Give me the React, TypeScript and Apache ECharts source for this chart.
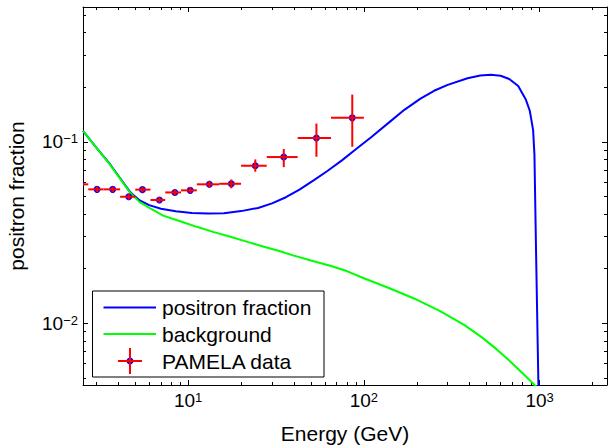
import React, { useEffect, useRef } from "react";
import * as echarts from "echarts";

// ---- data ----
const xMin = 2.52;
const xMax = 2420;
const yMin = 0.00457;
const yMax = 0.553;

const xMajorTicks = [10, 100, 1000];
const xMinorTicks = [3, 4, 5, 6, 7, 8, 9, 20, 30, 40, 50, 60, 70, 80, 90, 200, 300, 400, 500, 600, 700, 800, 900, 2000];
const yMajorTicks = [0.01, 0.1];
const yMinorTicks = [0.005, 0.006, 0.007, 0.008, 0.009, 0.02, 0.03, 0.04, 0.05, 0.06, 0.07, 0.08, 0.09, 0.2, 0.3, 0.4, 0.5];

// positron fraction model curve
const fracEnergy = [2.52, 3.0, 3.6, 4.2, 4.7, 5.3, 6.0, 7.0, 8.5, 10.5, 13, 16, 20, 25, 30, 36, 43, 52, 62, 75, 90, 110, 142, 170, 210, 251, 300, 389, 460, 528, 600, 672, 756, 835, 880, 919, 935, 955, 1000];
const fracValue = [0.115, 0.093, 0.075, 0.061, 0.0525, 0.0475, 0.0448, 0.0428, 0.0414, 0.0405, 0.0402, 0.0404, 0.0415, 0.0432, 0.0458, 0.0495, 0.0545, 0.0615, 0.069, 0.079, 0.091, 0.106, 0.13, 0.15, 0.173, 0.191, 0.206, 0.224, 0.232, 0.234, 0.231, 0.222, 0.203, 0.171, 0.148, 0.116, 0.085, 0.025, 0.002];

// background curve
const bgEnergy = [2.52, 3.0, 3.6, 4.2, 4.7, 5.3, 6.2, 7.2, 9, 11.2, 14, 17.4, 22, 27, 33, 40, 50, 65, 80, 100, 140, 193, 270, 372, 470, 571, 660, 750, 840, 918, 1000];
const bgValue = [0.115, 0.093, 0.0745, 0.0605, 0.052, 0.0465, 0.0425, 0.0392, 0.0365, 0.034, 0.0318, 0.03, 0.028, 0.0264, 0.025, 0.0236, 0.0222, 0.0207, 0.0194, 0.0177, 0.0156, 0.0137, 0.0117, 0.0098, 0.00836, 0.00718, 0.00634, 0.00564, 0.00507, 0.00466, 0.0043];

// PAMELA data
const pamEnergy = [2.45, 3.03, 3.72, 4.59, 5.49, 6.86, 8.4, 10.27, 13.2, 17.6, 24.1, 35.0, 53.7, 85.9];
const pamEnergyLow = [2.2, 2.7, 3.3, 4.1, 5.0, 6.1, 7.4, 9.1, 11.2, 15, 20, 28, 42, 65];
const pamEnergyHigh = [2.7, 3.3, 4.1, 5.0, 6.1, 7.4, 9.1, 11.2, 15, 20, 28, 42, 65, 100];
const pamValue = [0.0583, 0.0547, 0.0547, 0.0498, 0.0545, 0.0478, 0.0526, 0.054, 0.0583, 0.0587, 0.0738, 0.0824, 0.105, 0.1355];
const pamValueLow = [0.0565, 0.0528, 0.0528, 0.048, 0.0525, 0.0462, 0.0506, 0.0519, 0.056, 0.0554, 0.0684, 0.0725, 0.0827, 0.0939];
const pamValueHigh = [0.0602, 0.0567, 0.0567, 0.0518, 0.0566, 0.0496, 0.0548, 0.0563, 0.061, 0.062, 0.08, 0.0912, 0.126, 0.182];

const legendLabels = ["positron fraction", "background", "PAMELA data"];
const xTitle = "Energy (GeV)";
const yTitle = "positron fraction";

const FONT = "'Liberation Sans', Arial, Helvetica, sans-serif";
const BLUE = "#0000ff";
const GREEN = "#00ff00";
const RED = "#ff0000";

const supLabel = (v: number) => {
  const e = Math.round(Math.log10(v));
  const s = e < 0 ? "\u2212" + Math.abs(e) : String(e);
  return "{b|10}{s|" + s + "}";
};

const labelRich = {
  b: { fontSize: 19, lineHeight: 19, padding: [10, 0, 0, 0], verticalAlign: "bottom", color: "#000", fontFamily: FONT },
  s: { fontSize: 13, lineHeight: 13, verticalAlign: "top", color: "#000", fontFamily: FONT },
};

function makeXAxis(position: "top" | "bottom", major: boolean, withLabels: boolean, extra: any = {}) {
  return {
    type: "log",
    logBase: 10,
    min: xMin,
    max: xMax,
    position,
    gridIndex: 0,
    axisLine: { show: major, onZero: false, lineStyle: { color: "#000", width: 1 } },
    axisTick: {
      show: true,
      inside: true,
      length: major ? 5 : 3,
      customValues: major ? xMajorTicks : xMinorTicks,
      lineStyle: { color: "#000", width: 1 },
    },
    axisLabel: withLabels
      ? { show: true, customValues: xMajorTicks, formatter: supLabel, rich: labelRich, margin: 6 }
      : { show: false },
    splitLine: { show: false },
    minorTick: { show: false },
    ...extra,
  };
}

function makeYAxis(position: "left" | "right", major: boolean, withLabels: boolean, extra: any = {}) {
  return {
    type: "log",
    logBase: 10,
    min: yMin,
    max: yMax,
    position,
    gridIndex: 0,
    axisLine: { show: major, onZero: false, lineStyle: { color: "#000", width: 1 } },
    axisTick: {
      show: true,
      inside: true,
      length: major ? 5 : 3,
      customValues: major ? yMajorTicks : yMinorTicks,
      lineStyle: { color: "#000", width: 1 },
    },
    axisLabel: withLabels
      ? { show: true, customValues: yMajorTicks, formatter: supLabel, rich: labelRich, margin: 5 }
      : { show: false },
    splitLine: { show: false },
    minorTick: { show: false },
    ...extra,
  };
}

export default function App() {
  const ref = useRef<HTMLDivElement>(null);

  useEffect(() => {
    if (!ref.current) return;
    const chart = echarts.init(ref.current, null, { renderer: "svg" });

    const fracData = fracEnergy.map((e, i) => [e, fracValue[i]]);
    const bgData = bgEnergy.map((e, i) => [e, bgValue[i]]);
    const pamData = pamEnergy.map((e, i) => [e, pamValue[i], pamEnergyLow[i], pamEnergyHigh[i], pamValueLow[i], pamValueHigh[i]]);

    const lx = 92.5, ly = 291, lw = 231.5, lh = 86;
    const rows = [307.5, 334, 361];

    chart.setOption({
      animation: false,
      backgroundColor: "#fff",
      textStyle: { fontFamily: FONT },
      grid: { left: 83, right: 1, top: 7, bottom: 63, containLabel: false, outerBoundsMode: "none" },
      xAxis: [
        makeXAxis("bottom", true, true, {
          name: xTitle,
          nameLocation: "middle",
          nameGap: 38,
          nameTextStyle: { fontSize: 21, color: "#000", fontFamily: FONT },
        }),
        makeXAxis("bottom", false, false),
        makeXAxis("top", true, false),
        makeXAxis("top", false, false),
      ],
      yAxis: [
        makeYAxis("left", true, true, {
          name: yTitle,
          nameLocation: "middle",
          nameGap: 56,
          nameTextStyle: { fontSize: 21, color: "#000", fontFamily: FONT },
        }),
        makeYAxis("left", false, false),
        makeYAxis("right", true, false),
        makeYAxis("right", false, false),
      ],
      series: [
        {
          name: legendLabels[0],
          type: "line",
          xAxisIndex: 0,
          yAxisIndex: 0,
          data: fracData,
          showSymbol: false,
          symbol: "none",
          clip: true,
          lineStyle: { color: BLUE, width: 2 },
          itemStyle: { color: BLUE },
          z: 2,
        },
        {
          name: legendLabels[1],
          type: "line",
          xAxisIndex: 0,
          yAxisIndex: 0,
          data: bgData,
          showSymbol: false,
          symbol: "none",
          clip: true,
          lineStyle: { color: GREEN, width: 2 },
          itemStyle: { color: GREEN },
          z: 3,
        },
        {
          name: legendLabels[2],
          type: "custom",
          xAxisIndex: 0,
          yAxisIndex: 0,
          clip: true,
          z: 4,
          encode: { x: 0, y: 1 },
          data: pamData,
          renderItem: (params: any, api: any) => {
            const x = api.value(0), y = api.value(1);
            const c = api.coord([x, y]);
            const l = api.coord([api.value(2), y]);
            const r = api.coord([api.value(3), y]);
            const b = api.coord([x, api.value(4)]);
            const t = api.coord([x, api.value(5)]);
            return {
              type: "group",
              children: [
                { type: "circle", shape: { cx: c[0], cy: c[1], r: 3.5 }, style: { fill: BLUE } },
                { type: "line", shape: { x1: l[0], y1: l[1], x2: r[0], y2: r[1] }, style: { stroke: RED, lineWidth: 2 } },
                { type: "line", shape: { x1: t[0], y1: t[1], x2: b[0], y2: b[1] }, style: { stroke: RED, lineWidth: 2 } },
              ],
            };
          },
        },
      ],
      graphic: [
        {
          type: "group",
          z: 100,
          children: [
            { type: "rect", shape: { x: lx, y: ly, width: lw, height: lh }, style: { fill: "#fff", stroke: "#000", lineWidth: 1 } },
            { type: "line", shape: { x1: 103.5, y1: rows[0], x2: 156, y2: rows[0] }, style: { stroke: BLUE, lineWidth: 2 } },
            { type: "line", shape: { x1: 103.5, y1: rows[1], x2: 156, y2: rows[1] }, style: { stroke: GREEN, lineWidth: 2 } },
            { type: "circle", shape: { cx: 130, cy: rows[2], r: 3.5 }, style: { fill: BLUE } },
            { type: "line", shape: { x1: 118, y1: rows[2], x2: 142, y2: rows[2] }, style: { stroke: RED, lineWidth: 2 } },
            { type: "line", shape: { x1: 130, y1: rows[2] - 13, x2: 130, y2: rows[2] + 13 }, style: { stroke: RED, lineWidth: 2 } },
            ...legendLabels.map((t, i) => ({
              type: "text",
              x: 162,
              y: rows[i],
              style: { text: t, fill: "#000", font: "21px " + FONT, textVerticalAlign: "middle", verticalAlign: "middle", align: "left" },
            })),
          ],
        },
      ],
    });

    return () => chart.dispose();
  }, []);

  return (
    <div
      ref={ref}
      style={{ position: "fixed", left: 0, top: 0, width: 608, height: 448, background: "#fff" }}
    />
  );
}
